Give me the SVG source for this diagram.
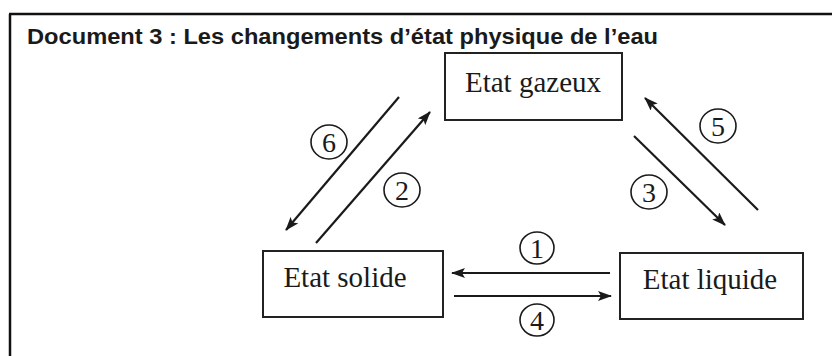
<svg xmlns="http://www.w3.org/2000/svg" width="832" height="356" viewBox="0 0 832 356">
<style>
.box{fill:#fff;stroke:#222;stroke-width:2}
.lbl{font-family:"Liberation Serif","Times New Roman",serif;font-size:29px;fill:#1a1a1a;text-anchor:middle}
.num{font-family:"Liberation Serif","Times New Roman",serif;font-size:28px;fill:#1a1a1a;text-anchor:middle}
.ring{fill:none;stroke:#1a1a1a;stroke-width:1.6}
.conn{stroke:#1a1a1a;stroke-width:2.2;fill:none;marker-end:url(#ah)}
.title{font-family:"Liberation Sans",Arial,sans-serif;font-weight:bold;font-size:22px;fill:#1a1a1a}
</style>
<defs>
<marker id="ah" markerWidth="14" markerHeight="10" refX="13" refY="5" orient="auto" markerUnits="userSpaceOnUse">
<path d="M0,0 L14,5 L0,10 L3,5 Z" fill="#1a1a1a"/>
</marker>
</defs>
<rect width="832" height="356" fill="#fff"/>
<g id="frame">
<path d="M9,14 H832 M10,14 V356" stroke="#111" stroke-width="2.5" fill="none"/>
<text class="title" x="27" y="44" textLength="631" lengthAdjust="spacingAndGlyphs">Document 3 : Les changements d’état physique de l’eau</text>
</g>
<g id="gazeux">
<rect class="box" x="445" y="53" width="177" height="67"/>
<text class="lbl" x="533" y="92">Etat gazeux</text>
</g>
<g id="solide">
<rect class="box" x="263" y="251" width="180" height="66"/>
<text class="lbl" x="345" y="287">Etat solide</text>
</g>
<g id="liquide">
<rect class="box" x="620" y="253" width="183" height="66"/>
<text class="lbl" x="710" y="289">Etat liquide</text>
</g>
<g id="connectors">
<line class="conn" x1="610" y1="273" x2="452" y2="273"/>
<line class="conn" x1="454" y1="296" x2="611" y2="296"/>
<line class="conn" x1="316" y1="243" x2="430" y2="112"/>
<line class="conn" x1="399" y1="97" x2="286" y2="230"/>
<line class="conn" x1="634" y1="136" x2="725" y2="225"/>
<line class="conn" x1="758" y1="210" x2="645" y2="98"/>
</g>
<g id="labels">
<ellipse class="ring" cx="537" cy="248" rx="17" ry="16"/><text class="num" x="537" y="258">1</text>
<ellipse class="ring" cx="402" cy="190" rx="18" ry="17"/><text class="num" x="402" y="200">2</text>
<ellipse class="ring" cx="649" cy="192" rx="18" ry="17"/><text class="num" x="649" y="202">3</text>
<ellipse class="ring" cx="537" cy="320" rx="17" ry="16"/><text class="num" x="537" y="330">4</text>
<ellipse class="ring" cx="718" cy="126" rx="18" ry="17"/><text class="num" x="718" y="136">5</text>
<ellipse class="ring" cx="329" cy="142" rx="18" ry="17"/><text class="num" x="329" y="152">6</text>
</g>
</svg>
